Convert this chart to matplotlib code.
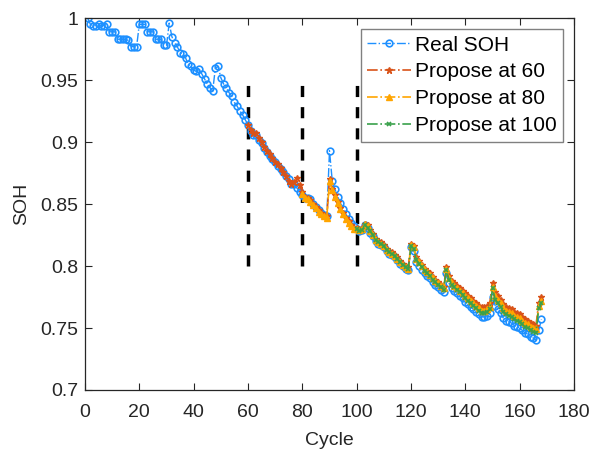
import matplotlib
matplotlib.use('Agg')
import matplotlib.pyplot as plt
import numpy as np

plt.rcParams['font.family'] = ['Liberation Sans', 'DejaVu Sans']

# real SOH, cycles 1..168
real_cycles = np.arange(1, 169)
real_soh = [
    1.000, 0.995, 0.994, 0.994, 0.995, 0.994, 0.994, 0.995, 0.989, 0.989,
    0.989, 0.983, 0.983, 0.983, 0.983, 0.982, 0.977, 0.977, 0.977, 0.995,
    0.995, 0.995, 0.989, 0.989, 0.989, 0.983, 0.983, 0.983, 0.978, 0.978,
    0.996, 0.985, 0.980, 0.977, 0.972, 0.971, 0.968, 0.963, 0.961, 0.958,
    0.957, 0.959, 0.955, 0.951, 0.947, 0.944, 0.941, 0.960, 0.961, 0.952,
    0.947, 0.944, 0.940, 0.937, 0.932, 0.929, 0.925, 0.922, 0.918, 0.914,
    0.909, 0.906, 0.906, 0.902, 0.899, 0.895, 0.892, 0.889, 0.886, 0.884,
    0.881, 0.878, 0.876, 0.873, 0.870, 0.866, 0.866, 0.863, 0.860, 0.857,
    0.855, 0.855, 0.854, 0.850, 0.848, 0.845, 0.843, 0.841, 0.840, 0.893,
    0.869, 0.862, 0.856, 0.851, 0.846, 0.842, 0.838, 0.835, 0.832, 0.830,
    0.828, 0.829, 0.833, 0.831, 0.827, 0.824, 0.820, 0.818, 0.817, 0.815,
    0.812, 0.810, 0.809, 0.807, 0.805, 0.802, 0.800, 0.798, 0.797, 0.815,
    0.812, 0.803, 0.800, 0.797, 0.794, 0.792, 0.790, 0.787, 0.785, 0.783,
    0.781, 0.779, 0.794, 0.786, 0.782, 0.780, 0.778, 0.776, 0.774, 0.771,
    0.769, 0.767, 0.765, 0.763, 0.761, 0.759, 0.759, 0.760, 0.762, 0.775,
    0.768, 0.765, 0.762, 0.758, 0.756, 0.755, 0.754, 0.752, 0.751, 0.750,
    0.748, 0.746, 0.745, 0.743, 0.742, 0.740, 0.748, 0.757,
]

# prediction started at cycle 60
p60_cycles = np.arange(60, 169)
p60_soh = [
    0.914, 0.910, 0.907, 0.907, 0.903, 0.900, 0.896, 0.893, 0.890, 0.887,
    0.884, 0.882, 0.879, 0.876, 0.873, 0.869, 0.866, 0.868, 0.871, 0.865,
    0.860, 0.856, 0.855, 0.853, 0.850, 0.848, 0.845, 0.843, 0.841, 0.840,
    0.870, 0.862, 0.857, 0.852, 0.847, 0.843, 0.839, 0.836, 0.833, 0.831,
    0.831, 0.830, 0.831, 0.834, 0.833, 0.829, 0.826, 0.822, 0.820, 0.819,
    0.817, 0.814, 0.812, 0.811, 0.809, 0.807, 0.804, 0.802, 0.800, 0.799,
    0.818, 0.816, 0.807, 0.804, 0.801, 0.798, 0.796, 0.794, 0.791, 0.789,
    0.787, 0.785, 0.783, 0.799, 0.792, 0.788, 0.786, 0.784, 0.782, 0.780,
    0.778, 0.776, 0.774, 0.772, 0.770, 0.768, 0.767, 0.767, 0.768, 0.770,
    0.786, 0.779, 0.776, 0.773, 0.769, 0.767, 0.766, 0.765, 0.763, 0.762,
    0.761, 0.759, 0.757, 0.756, 0.754, 0.753, 0.752, 0.770, 0.775,
]

# prediction started at cycle 80
p80_cycles = np.arange(80, 169)
p80_soh = [
    0.858, 0.855, 0.854, 0.852, 0.849, 0.847, 0.844, 0.842, 0.840, 0.839,
    0.869, 0.861, 0.856, 0.851, 0.846, 0.842, 0.838, 0.835, 0.832, 0.830,
    0.830, 0.829, 0.830, 0.834, 0.832, 0.828, 0.825, 0.821, 0.819, 0.818,
    0.816, 0.813, 0.811, 0.810, 0.808, 0.806, 0.803, 0.801, 0.799, 0.798,
    0.817, 0.815, 0.806, 0.803, 0.800, 0.797, 0.795, 0.793, 0.790, 0.788,
    0.786, 0.784, 0.782, 0.798, 0.790, 0.786, 0.784, 0.782, 0.780, 0.778,
    0.776, 0.774, 0.772, 0.770, 0.768, 0.766, 0.764, 0.764, 0.765, 0.767,
    0.783, 0.776, 0.773, 0.770, 0.766, 0.764, 0.763, 0.762, 0.760, 0.759,
    0.758, 0.756, 0.754, 0.753, 0.751, 0.750, 0.749, 0.768, 0.772,
]

# prediction started at cycle 100
p100_cycles = np.arange(100, 169)
p100_soh = [
    0.830, 0.828, 0.829, 0.833, 0.831, 0.828, 0.825, 0.821, 0.819, 0.818,
    0.816, 0.813, 0.811, 0.810, 0.808, 0.806, 0.803, 0.801, 0.799, 0.798,
    0.816, 0.814, 0.805, 0.802, 0.799, 0.796, 0.794, 0.792, 0.789, 0.787,
    0.785, 0.783, 0.781, 0.797, 0.789, 0.785, 0.783, 0.781, 0.779, 0.777,
    0.774, 0.772, 0.770, 0.768, 0.766, 0.764, 0.762, 0.762, 0.763, 0.765,
    0.782, 0.773, 0.770, 0.767, 0.763, 0.761, 0.760, 0.759, 0.757, 0.756,
    0.755, 0.753, 0.751, 0.750, 0.748, 0.747, 0.746, 0.766, 0.770,
]

start_points = [60, 80, 100]
mark_low, mark_high = 0.8, 0.95

fig = plt.figure(figsize=(5.93, 4.54), dpi=100)
ax = fig.add_axes([0.1433, 0.141, 0.8247, 0.819])

for s in start_points:
    ax.plot([s, s], [mark_low, mark_high], color='k', lw=2.5,
            linestyle=(0, (3.2, 2.9)), zorder=1)

real, = ax.plot(real_cycles, real_soh, '-.o', color='#1e90ff', lw=1.0,
                ms=4.8, mfc='none', mew=1.2, zorder=2)
p60, = ax.plot(p60_cycles, p60_soh, '-.', marker='*', color='#d95319', lw=1.2,
               ms=4.5, zorder=3)
p80, = ax.plot(p80_cycles, p80_soh, '-.', marker='^', color='#ffa500', lw=1.2,
               ms=4, zorder=4)
p100, = ax.plot(p100_cycles, p100_soh, '-.', marker='x', color='#3aa14b', lw=1.2,
                ms=3, mew=1.2, zorder=5)

ax.set_xlim(0, 180)
ax.set_ylim(0.7, 1.0)
ax.set_xticks(np.arange(0, 181, 20))
ax.set_yticks([0.7, 0.75, 0.8, 0.85, 0.9, 0.95, 1.0])
ax.set_yticklabels(['0.7', '0.75', '0.8', '0.85', '0.9', '0.95', '1'])
ax.tick_params(direction='in', top=True, right=True, length=5, width=0.8,
               labelsize=14, colors='#262626')
ax.tick_params(axis='x', pad=10)
ax.tick_params(axis='y', pad=5)
for sp in ax.spines.values():
    sp.set_color('#262626')
    sp.set_linewidth(0.9)

ax.set_xlabel('Cycle', fontsize=14, color='#262626', labelpad=8)
ax.set_ylabel('SOH', fontsize=14, color='#262626', labelpad=7)

leg = ax.legend([real, p60, p80, p100],
                ['Real SOH', 'Propose at 60', 'Propose at 80', 'Propose at 100'],
                loc='upper right', bbox_to_anchor=(0.9775, 0.970), fontsize=15,
                handlelength=2.1, handletextpad=0.2, labelspacing=0.38,
                borderpad=0.3, borderaxespad=0.0, fancybox=False, framealpha=1)
leg.get_frame().set_edgecolor('#808080')
leg.get_frame().set_linewidth(1.0)

fig.savefig('out.png', dpi=100)
